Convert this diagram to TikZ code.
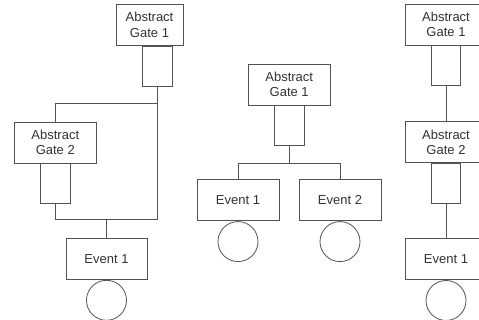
\documentclass[tikz,border=0pt]{standalone}
\usepackage{fontspec}
\setmainfont{Liberation Sans}
\begin{document}
\begin{tikzpicture}[x=1pt,y=-1pt,
  ln/.style={draw=black!68, line width=0.8pt},
  gbox/.style={ln, fill=white, minimum width=82pt, minimum height=41pt, inner sep=0pt,
    align=center, text=black!80, font=\fontsize{13}{15.5}\selectfont},
  stembox/.style={ln, minimum width=29.5pt, minimum height=40pt, inner sep=0pt},
  evc/.style={ln, circle, minimum size=40pt, inner sep=0pt}]
\useasboundingbox (0,0) rectangle (479,320);
\clip (0,0) rectangle (479,320);
% ---------- left tree ----------
\node[gbox, minimum width=67pt] (lg1) at (149.5,25) {Abstract\\Gate 1};
\node[stembox, anchor=north] (lg1s) at ([xshift=7.8pt]lg1.south) {};
\node[gbox] (lg2) at (55.3,142.5) {Abstract\\Gate 2};
\node[stembox, anchor=north] (lg2s) at (lg2.south) {};
\node[gbox, minimum width=81pt] (le1) at (106.5,259) {Event 1};
\node[evc, anchor=north] (le1c) at (le1.south) {};
\path (lg1s.south) ++(0,16.5) coordinate (lj1);
\path (lg2s.south) ++(0,15.5) coordinate (lb2);
\coordinate (lb1) at (lj1 |- lb2);
\draw[ln] (lg1s.south) -- (lj1) -| (lg2.north);
\draw[ln] (lg2s.south) -- (lb2) -- (lb1) -- (lj1);
\draw[ln] (le1.north) -- (le1.north |- lb2);
% ---------- middle tree ----------
\node[gbox] (mg1) at (289.2,84.5) {Abstract\\Gate 1};
\node[stembox, anchor=north] (mg1s) at (mg1.south) {};
\node[gbox] (me1) at (238,200.3) {Event 1};
\node[gbox] (me2) at (340,200.3) {Event 2};
\node[evc, anchor=north] (me1c) at (me1.south) {};
\node[evc, anchor=north] (me2c) at (me2.south) {};
\path (mg1s.south) ++(0,17.5) coordinate (mj);
\draw[ln] (mg1s.south) -- (mj);
\draw[ln] (me1.north) |- (mj) -| (me2.north);
% ---------- right tree ----------
\node[gbox] (rg1) at (446,24.5) {Abstract\\Gate 1};
\node[stembox, anchor=north] (rg1s) at (rg1.south) {};
\node[gbox] (rg2) at (446,142.3) {Abstract\\Gate 2};
\node[stembox, anchor=north] (rg2s) at (rg2.south) {};
\node[gbox] (re1) at (446,259.2) {Event 1};
\node[evc, anchor=north] (re1c) at (re1.south) {};
\draw[ln] (rg1s.south) -- (rg2.north);
\draw[ln] (rg2s.south) -- (re1.north);
\end{tikzpicture}
\end{document}
